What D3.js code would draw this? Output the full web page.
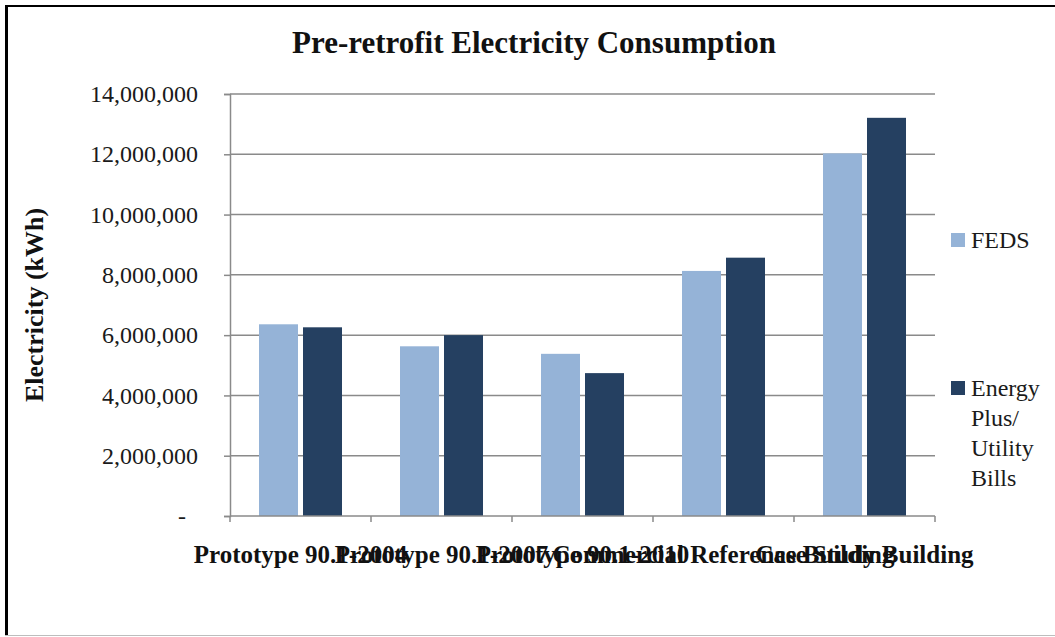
<!DOCTYPE html>
<html>
<head>
<meta charset="utf-8">
<script src="https://cdn.jsdelivr.net/npm/d3@7/dist/d3.min.js"></script>
<style>
  html, body { margin: 0; padding: 0; background: #fff; }
  svg { display: block; }
  svg text { font-family: "Liberation Serif", "DejaVu Serif", serif; }
</style>
</head>
<body>
<svg id="chart" width="1055" height="637"></svg>
<script>
// Building categories along the x axis
const categories = [
  "Prototype 90.1-2004",
  "Prototype 90.1-2007",
  "Prototype 90.1-2010",
  "Commercial Reference Building",
  "Case Study Building"
];
// Series names
const seriesNames = ["FEDS", "Energy Plus/ Utility Bills"];
// Annual electricity use, kWh
const fedsValues = [6360000, 5630000, 5380000, 8130000, 12030000];
const energyPlusValues = [6260000, 6000000, 4740000, 8570000, 13210000];
// Y axis ticks
const yTicks = [0, 2000000, 4000000, 6000000, 8000000, 10000000, 12000000, 14000000];
const seriesColors = ["#95B3D7", "#254061"];

const FONT = "'Liberation Serif', 'DejaVu Serif', serif";
const svg = d3.select("#chart");
const W = 1055, H = 637;
const plot = { left: 230, right: 935, top: 94, bottom: 516 };

// Outer frame: heavy top/left edge, light bottom edge
svg.append("rect").attr("x", 0).attr("y", 0).attr("width", W).attr("height", H).attr("fill", "#fff");
svg.append("line").attr("x1", 6.5).attr("x2", W).attr("y1", 6).attr("y2", 6)
  .attr("stroke", "#000").attr("stroke-width", 2);
svg.append("line").attr("x1", 6.5).attr("x2", 6.5).attr("y1", 5).attr("y2", 636)
  .attr("stroke", "#000").attr("stroke-width", 3);
svg.append("line").attr("x1", 5).attr("x2", W).attr("y1", 635.5).attr("y2", 635.5)
  .attr("stroke", "#bdbdbd").attr("stroke-width", 1);

// Scales
const x0 = d3.scaleBand().domain(categories).range([plot.left, plot.right])
  .paddingInner(0).paddingOuter(0);
const x1 = d3.scaleBand().domain(seriesNames).range([0, x0.bandwidth()])
  .paddingInner(5 / 44).paddingOuter(0.659);
const y = d3.scaleLinear().domain([0, 14000000]).range([plot.bottom, plot.top]);

const gridColor = "#8a8a8a";

// Horizontal gridlines
svg.append("g").selectAll("line").data(yTicks.filter(d => d > 0)).join("line")
  .attr("x1", plot.left).attr("x2", plot.right)
  .attr("y1", d => y(d)).attr("y2", d => y(d))
  .attr("stroke", gridColor).attr("stroke-width", 1.5);

// Bars
const data = categories.map((c, i) => ({ cat: c, vals: [fedsValues[i], energyPlusValues[i]] }));
const groups = svg.append("g").selectAll("g").data(data).join("g")
  .attr("transform", d => `translate(${x0(d.cat)},0)`);
groups.selectAll("rect").data(d => d.vals.map((v, j) => ({ key: seriesNames[j], v, j }))).join("rect")
  .attr("x", d => x1(d.key))
  .attr("width", x1.bandwidth())
  .attr("y", d => y(d.v))
  .attr("height", d => y(0) - y(d.v))
  .attr("fill", d => seriesColors[d.j]);

// Y axis
const fmt = d3.format(",");
const yAxis = d3.axisLeft(y).tickValues(yTicks).tickSize(6).tickPadding(26)
  .tickFormat(d => d === 0 ? "-" : fmt(d));
const yg = svg.append("g").attr("transform", `translate(${plot.left},0)`).call(yAxis)
  .attr("font-family", FONT);
yg.select(".domain").attr("stroke", gridColor).attr("stroke-width", 1.5);
yg.selectAll(".tick line").attr("stroke", gridColor).attr("stroke-width", 1.5);
yg.selectAll(".tick text").attr("font-size", 24).attr("fill", "#1a1a1a")
  .style("font-family", FONT);
yg.selectAll(".tick").filter(d => d === 0).select("text").attr("dx", -12);

// X axis with ticks at band boundaries
const xg = svg.append("g").attr("transform", `translate(0,${plot.bottom})`);
xg.append("line").attr("x1", plot.left).attr("x2", plot.right).attr("y1", 0).attr("y2", 0)
  .attr("stroke", gridColor).attr("stroke-width", 1.5);
const bounds = categories.map(c => x0(c)).concat([plot.right]);
xg.selectAll("line.tk").data(bounds).join("line").attr("class", "tk")
  .attr("x1", d => d).attr("x2", d => d).attr("y1", 0).attr("y2", 6)
  .attr("stroke", gridColor).attr("stroke-width", 1.5);
xg.selectAll("text").data(categories).join("text")
  .attr("x", d => x0(d) + x0.bandwidth() / 2)
  .attr("y", 47)
  .attr("text-anchor", "middle")
  .style("font-family", FONT)
  .attr("font-size", 25).attr("font-weight", "bold").attr("fill", "#111")
  .text(d => d);

// Title
svg.append("text").attr("x", 534).attr("y", 53).attr("text-anchor", "middle")
  .style("font-family", FONT)
  .attr("font-size", 31).attr("font-weight", "bold").attr("fill", "#111")
  .text("Pre-retrofit Electricity Consumption");

// Y axis title
svg.append("text")
  .attr("transform", `translate(43,${(plot.top + plot.bottom) / 2}) rotate(-90)`)
  .attr("text-anchor", "middle")
  .style("font-family", FONT)
  .attr("font-size", 26).attr("font-weight", "bold").attr("fill", "#111")
  .text("Electricity (kWh)");

// Legend
const legendItems = [
  { name: seriesNames[0], lines: ["FEDS"], y: 233, color: seriesColors[0] },
  { name: seriesNames[1], lines: ["Energy", "Plus/", "Utility", "Bills"], y: 381, color: seriesColors[1] }
];
const lg = svg.append("g");
legendItems.forEach(item => {
  lg.append("rect").attr("x", 951).attr("y", item.y).attr("width", 14).attr("height", 14)
    .attr("fill", item.color);
  const t = lg.append("text").attr("x", 971).attr("y", item.y + 15)
    .style("font-family", FONT)
    .attr("font-size", 24).attr("fill", "#1a1a1a");
  item.lines.forEach((ln, k) => {
    t.append("tspan").attr("x", 971).attr("dy", k === 0 ? 0 : 30).text(ln);
  });
});
</script>
</body>
</html>
